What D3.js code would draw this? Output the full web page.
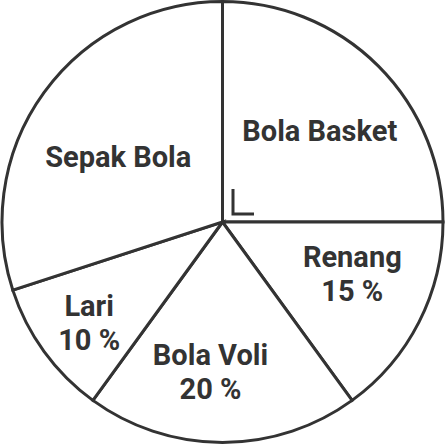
<!DOCTYPE html>
<html><head><meta charset="utf-8">
<script src="https://cdn.jsdelivr.net/npm/d3@7"></script>
<style>html,body{margin:0;padding:0;background:#fff;}svg{display:block;}</style>
</head><body>
<svg id="c" width="447" height="447"></svg>
<script>
const categories = ["Bola Basket", "Renang", "Bola Voli", "Lari", "Sepak Bola"];
const values = [25, 15, 20, 10, 30];
const valueLabels = ["", "15 %", "20 %", "10 %", ""];

const W = 447, H = 447, cx = 222.5, cy = 222, R = 220.5;
const labelR = [133, 140, 150, 167, 123];
const labelAng = [47, 112, 184.6, 233, 302];
const ink = "#333";

const svg = d3.select("#c");
const g = svg.append("g").attr("transform", `translate(${cx},${cy})`);
const data = categories.map((c, i) => ({c, v: values[i], lab: valueLabels[i]}));
const pie = d3.pie().value(d => d.v).sort(null);
const arcs = pie(data);
const arc = d3.arc().innerRadius(0).outerRadius(R);

g.selectAll("path").data(arcs).join("path")
  .attr("d", arc).attr("fill", "#fff")
  .attr("stroke", ink).attr("stroke-width", 3).attr("stroke-linejoin", "miter");

// right-angle marker
g.append("path").attr("d", "M10.5,-33 V-8 H31.5")
  .attr("fill", "none").attr("stroke", ink).attr("stroke-width", 3);

arcs.forEach((a, i) => {
  const ang = labelAng[i] * Math.PI / 180;
  const x = labelR[i] * Math.sin(ang), y = -labelR[i] * Math.cos(ang);
  const t = g.append("text").attr("text-anchor", "middle")
    .attr("font-family", "Roboto, sans-serif").attr("font-weight", "bold")
    .attr("font-size", 29).attr("fill", ink);
  if (a.data.lab) {
    t.append("tspan").attr("x", x).attr("y", y - 7).text(a.data.c);
    t.append("tspan").attr("x", x).attr("y", y + 27).text(a.data.lab);
  } else {
    t.append("tspan").attr("x", x).attr("y", y + 10).text(a.data.c);
  }
});
</script>
</body></html>
